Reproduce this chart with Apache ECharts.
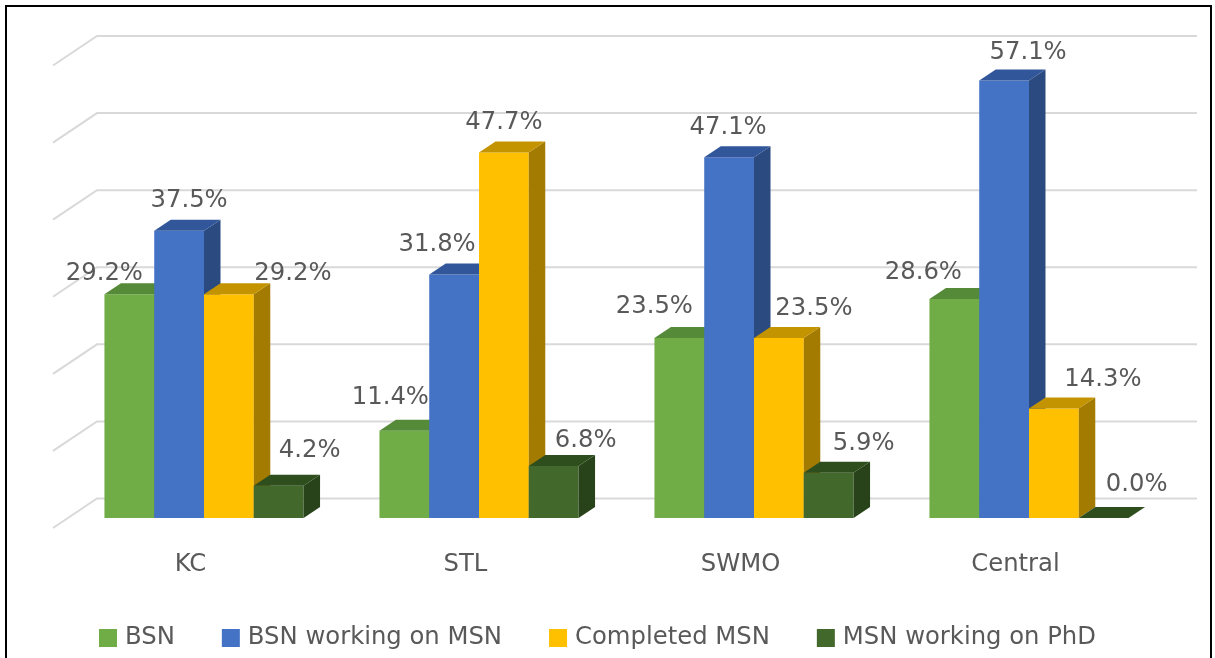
<!DOCTYPE html>
<html>
<head>
<meta charset="utf-8">
<script src="https://cdn.jsdelivr.net/npm/echarts@6/dist/echarts.min.js"></script>
<style>
html,body{margin:0;padding:0;background:#fff;}
#chart{width:1215px;height:658px;}
</style>
</head>
<body>
<div id="chart"></div>
<script>
// ---- data ----
const categories = ['KC', 'STL', 'SWMO', 'Central'];
const seriesNames = ['BSN', 'BSN working on MSN', 'Completed MSN', 'MSN working on PhD'];
const bsn = [29.2, 11.4, 23.5, 28.6];
const bsnWorkingOnMsn = [37.5, 31.8, 47.1, 57.1];
const completedMsn = [29.2, 47.7, 23.5, 14.3];
const msnWorkingOnPhd = [4.2, 6.8, 5.9, 0.0];
const gridTicks = [0, 10, 20, 30, 40, 50, 60];

// ---- styling / layout ----
const seriesValues = [bsn, bsnWorkingOnMsn, completedMsn, msnWorkingOnPhd];
const faceColors = [
  {front: '#70AD47', top: '#558A38', side: '#4A7A30'},
  {front: '#4472C4', top: '#31569A', side: '#2B4A80'},
  {front: '#FFC000', top: '#C49300', side: '#A37B00'},
  {front: '#43682B', top: '#2F4E1E', side: '#28421A'}
];
// label nudges [dx, dy] relative to front top centre of each bar
const labelNudge = [
  [[-25, -21], [-14, -33], [-25, -31], [-31, -26]],
  [[10, -30], [-17, -30], [-1, -30], [24, -28]],
  [[64, -21], [0, -30], [35, -29], [49, -29]],
  [[31, -35], [32, -25], [35, -29], [33, -33]]
];
const DEPTH_X = 16.5, DEPTH_Y = -11;
const WALL_DX = -44, WALL_DY = 29.5;
const FONT = 'DejaVu Sans';
const FONT_SIZE = 24.3;
const TEXT_COLOR = '#595959';
const BAR_FRAC = 0.181;

const chart = echarts.init(document.getElementById('chart'), null, {renderer: 'canvas'});

function renderWall(params, api) {
  const v = api.value(1);
  const p0 = api.coord([0, v]);
  const p1 = api.coord([1, v]);
  return {
    type: 'polyline',
    shape: {points: [[p0[0] + WALL_DX, p0[1] + WALL_DY], [p0[0], p0[1]], [p1[0], p1[1]]]},
    style: {stroke: '#D9D9D9', lineWidth: 2, fill: null}
  };
}

function makeBarRenderer(si) {
  return function (params, api) {
    const ci = api.value(0);
    const val = api.value(1);
    const base = api.coord([ci, 0]);
    const top = api.coord([ci, val]);
    const band = api.size([1, 0])[0];
    const bw = band * BAR_FRAC;
    const xc = base[0] + (si - 1.5) * bw;
    const xl = xc - bw / 2, xr = xc + bw / 2;
    const yb = base[1], yt = top[1];
    const c = faceColors[si];
    const children = [];
    if (yb - yt > 0.1) {
      children.push({type: 'polygon', shape: {points: [[xl, yb], [xr, yb], [xr, yt], [xl, yt]]},
        style: {fill: c.front}});
      children.push({type: 'polygon', shape: {points: [[xr, yb], [xr + DEPTH_X, yb + DEPTH_Y], [xr + DEPTH_X, yt + DEPTH_Y], [xr, yt]]},
        style: {fill: c.side}});
    }
    children.push({type: 'polygon', shape: {points: [[xl, yt], [xr, yt], [xr + DEPTH_X, yt + DEPTH_Y], [xl + DEPTH_X, yt + DEPTH_Y]]},
      style: {fill: c.top}});
    const nd = labelNudge[si][ci];
    children.push({type: 'text', x: xc + nd[0], y: yt + nd[1],
      style: {text: val.toFixed(1) + '%', fill: TEXT_COLOR, font: FONT_SIZE + 'px "' + FONT + '"',
        align: 'center', verticalAlign: 'middle'}});
    return {type: 'group', children: children};
  };
}

const series = [{
  type: 'custom', name: 'wall', xAxisIndex: 0, yAxisIndex: 0,
  data: gridTicks.map(v => [0, v]), renderItem: renderWall, clip: false, silent: true, z: 1
}];
seriesValues.forEach((vals, si) => {
  series.push({
    type: 'custom', name: seriesNames[si], xAxisIndex: 1, yAxisIndex: 1,
    data: vals.map((v, i) => [i, v]),
    renderItem: makeBarRenderer(si), clip: false, z: 2,
    itemStyle: {color: faceColors[si].front}
  });
});

chart.setOption({
  animation: false,
  backgroundColor: '#ffffff',
  textStyle: {fontFamily: FONT},
  grid: [
    {left: 97, right: 18, top: 36, bottom: 159.5},
    {left: 66.5, right: 48.5, top: 58.4, bottom: 140},
    {left: 53, right: 62, top: 100, bottom: 131}
  ],
  xAxis: [
    {gridIndex: 0, type: 'value', min: 0, max: 1, show: false},
    {gridIndex: 1, type: 'category', data: categories, show: false},
    {gridIndex: 2, type: 'category', data: categories,
      axisLine: {show: false}, axisTick: {show: false},
      axisLabel: {margin: 26, fontSize: FONT_SIZE, lineHeight: 24, color: TEXT_COLOR, fontFamily: FONT}}
  ],
  yAxis: [
    {gridIndex: 0, type: 'value', min: 0, max: 60, interval: 10, show: false},
    {gridIndex: 1, type: 'value', min: 0, max: 60, interval: 10, show: false},
    {gridIndex: 2, type: 'value', min: 0, max: 60, show: false}
  ],
  legend: {
    data: seriesNames, left: 94, top: 621, icon: 'rect', itemWidth: 18, itemHeight: 18, itemGap: 47,
    textStyle: {fontSize: FONT_SIZE, lineHeight: 24, color: TEXT_COLOR, fontFamily: FONT, padding: [0, 0, 0, 3]},
    selectedMode: false
  },
  graphic: [{
    type: 'rect', shape: {x: 6, y: 6, width: 1205, height: 670},
    style: {fill: null, stroke: '#000', lineWidth: 2}, silent: true, z: 100
  }],
  series: series
});
</script>
</body>
</html>
